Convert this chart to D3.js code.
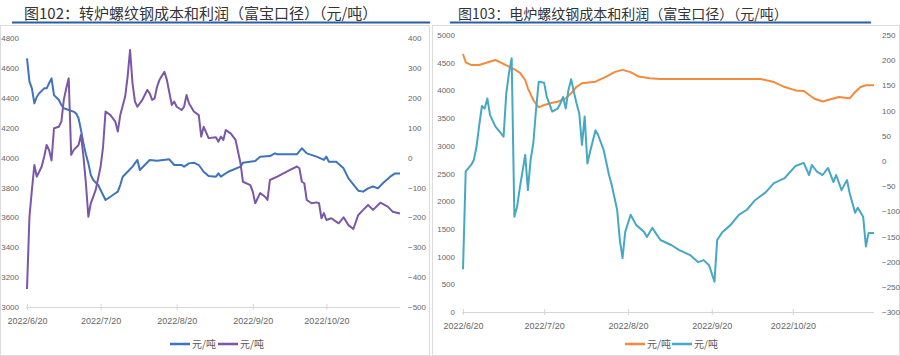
<!DOCTYPE html>
<html><head><meta charset="utf-8">
<script src="https://cdn.jsdelivr.net/npm/d3@7/dist/d3.min.js"></script>
<style>
html,body{margin:0;padding:0;background:#fff;}
svg{display:block;}
</style></head>
<body><svg id="c" width="900" height="356"></svg>
<script>
// ---------- DATA ----------
const title1 = "图102：转炉螺纹钢成本和利润（富宝口径）（元/吨）";
const title2 = "图103：电炉螺纹钢成本和利润（富宝口径）（元/吨）";
const xTickDates = ["2022-06-20","2022-07-20","2022-08-20","2022-09-20","2022-10-20"];
const xTickLabels = ["2022/6/20","2022/7/20","2022/8/20","2022/9/20","2022/10/20"];
const xDomain = ["2022-06-20","2022-11-19"];
const leftTicks1 = [3000,3200,3400,3600,3800,4000,4200,4400,4600,4800];
const rightTicks1 = [-500,-400,-300,-200,-100,0,100,200,300,400];
const leftTicks2 = [0,500,1000,1500,2000,2500,3000,3500,4000,4500,5000];
const rightTicks2 = [-300,-250,-200,-150,-100,-50,0,50,100,150,200,250];
const legendLabels = ["元/吨","元/吨"];

// 转炉 cost (left axis)
const bofCostDates = ["2022-06-20","2022-06-21","2022-06-22","2022-06-23","2022-06-24","2022-06-25","2022-06-27","2022-06-28","2022-06-29","2022-06-30","2022-07-01","2022-07-03","2022-07-04","2022-07-05","2022-07-07","2022-07-09","2022-07-10","2022-07-11","2022-07-12","2022-07-13","2022-07-14","2022-07-15","2022-07-16","2022-07-17","2022-07-19","2022-07-20","2022-07-22","2022-07-24","2022-07-26","2022-07-27","2022-07-28","2022-07-29","2022-07-31","2022-08-02","2022-08-04","2022-08-05","2022-08-07","2022-08-09","2022-08-12","2022-08-17","2022-08-19","2022-08-22","2022-08-23","2022-08-25","2022-08-27","2022-08-29","2022-08-31","2022-09-02","2022-09-05","2022-09-06","2022-09-07","2022-09-10","2022-09-15","2022-09-16","2022-09-21","2022-09-23","2022-09-27","2022-09-29","2022-09-30","2022-10-05","2022-10-08","2022-10-10","2022-10-12","2022-10-16","2022-10-19","2022-10-20","2022-10-21","2022-10-24","2022-10-27","2022-10-29","2022-11-02","2022-11-04","2022-11-06","2022-11-08","2022-11-10","2022-11-12","2022-11-15","2022-11-17","2022-11-19"];
const bofCost = [4664,4508,4463,4363,4407,4430,4463,4463,4497,4530,4418,4385,4352,4330,4318,4307,4296,4263,4184,4095,4022,3961,3883,3850,3816,3783,3716,3738,3761,3772,3816,3872,3905,3939,3984,3917,3950,3984,3979,3988,3950,3950,3939,3961,3966,3950,3905,3876,3872,3894,3872,3905,3939,3966,3977,4006,4010,4028,4022,4022,4022,4062,4028,4006,3984,4006,3972,3972,3928,3861,3778,3772,3794,3806,3794,3828,3872,3894,3894];

// 转炉 profit (right axis)
const bofProfitDates = ["2022-06-20","2022-06-21","2022-06-22","2022-06-23","2022-06-24","2022-06-26","2022-06-27","2022-06-28","2022-06-29","2022-06-30","2022-07-01","2022-07-03","2022-07-04","2022-07-05","2022-07-06","2022-07-07","2022-07-08","2022-07-09","2022-07-11","2022-07-12","2022-07-13","2022-07-14","2022-07-15","2022-07-16","2022-07-18","2022-07-20","2022-07-21","2022-07-22","2022-07-24","2022-07-26","2022-07-27","2022-07-28","2022-07-30","2022-07-31","2022-08-01","2022-08-02","2022-08-03","2022-08-04","2022-08-06","2022-08-08","2022-08-09","2022-08-10","2022-08-11","2022-08-12","2022-08-13","2022-08-15","2022-08-16","2022-08-18","2022-08-19","2022-08-20","2022-08-22","2022-08-23","2022-08-24","2022-08-25","2022-08-27","2022-08-29","2022-08-30","2022-08-31","2022-09-02","2022-09-05","2022-09-06","2022-09-07","2022-09-08","2022-09-09","2022-09-11","2022-09-13","2022-09-15","2022-09-16","2022-09-19","2022-09-20","2022-09-21","2022-09-23","2022-09-25","2022-09-26","2022-09-27","2022-09-30","2022-10-05","2022-10-08","2022-10-09","2022-10-10","2022-10-11","2022-10-12","2022-10-14","2022-10-16","2022-10-17","2022-10-18","2022-10-19","2022-10-20","2022-10-22","2022-10-25","2022-10-27","2022-10-29","2022-10-31","2022-11-02","2022-11-04","2022-11-06","2022-11-08","2022-11-11","2022-11-14","2022-11-16","2022-11-19"];
const bofProfit = [-440,-198,-108,-25,-64,-30,3,42,25,-10,98,103,120,193,232,265,9,25,42,76,3,-86,-198,-153,-108,-30,36,154,142,120,87,142,204,271,360,248,187,170,193,226,215,193,198,237,260,287,260,176,187,170,159,170,209,182,154,142,70,103,65,68,53,70,59,92,81,59,-19,-81,-92,-114,-153,-119,-131,-142,-75,-64,-42,-30,-36,-81,-86,-142,-153,-150,-153,-203,-186,-209,-203,-220,-200,-226,-239,-192,-175,-159,-175,-151,-164,-181,-187];

// 电炉 cost (left axis)
const eafCostDates = ["2022-06-20","2022-06-21","2022-06-23","2022-06-26","2022-06-28","2022-07-02","2022-07-04","2022-07-07","2022-07-09","2022-07-11","2022-07-13","2022-07-14","2022-07-16","2022-07-18","2022-07-20","2022-07-23","2022-07-25","2022-07-28","2022-07-30","2022-08-01","2022-08-03","2022-08-08","2022-08-12","2022-08-15","2022-08-18","2022-08-21","2022-08-24","2022-08-28","2022-09-01","2022-09-16","2022-09-30","2022-10-08","2022-10-13","2022-10-17","2022-10-21","2022-10-24","2022-10-28","2022-10-31","2022-11-03","2022-11-06","2022-11-10","2022-11-12","2022-11-14","2022-11-16","2022-11-19"];
const eafCost = [4657,4507,4459,4459,4489,4549,4501,4429,4380,4320,4188,4038,3827,3695,3736,3777,3795,3857,3947,4066,4127,4157,4250,4330,4370,4330,4250,4220,4206,4206,4206,4206,4150,4060,4000,3990,3850,3800,3840,3880,3857,3971,4061,4092,4092];

// 电炉 profit (right axis)
const eafProfitDates = ["2022-06-20","2022-06-21","2022-06-23","2022-06-24","2022-06-25","2022-06-26","2022-06-27","2022-06-28","2022-06-29","2022-06-30","2022-07-02","2022-07-04","2022-07-05","2022-07-06","2022-07-07","2022-07-08","2022-07-09","2022-07-10","2022-07-11","2022-07-13","2022-07-14","2022-07-15","2022-07-16","2022-07-17","2022-07-18","2022-07-20","2022-07-21","2022-07-23","2022-07-25","2022-07-26","2022-07-27","2022-07-28","2022-07-29","2022-07-30","2022-07-31","2022-08-01","2022-08-02","2022-08-03","2022-08-04","2022-08-05","2022-08-06","2022-08-08","2022-08-09","2022-08-11","2022-08-13","2022-08-14","2022-08-16","2022-08-17","2022-08-18","2022-08-19","2022-08-21","2022-08-23","2022-08-26","2022-08-27","2022-08-29","2022-09-01","2022-09-05","2022-09-08","2022-09-12","2022-09-15","2022-09-17","2022-09-19","2022-09-21","2022-09-22","2022-09-24","2022-09-27","2022-09-30","2022-10-03","2022-10-06","2022-10-10","2022-10-13","2022-10-17","2022-10-21","2022-10-24","2022-10-26","2022-10-27","2022-10-29","2022-10-31","2022-11-02","2022-11-04","2022-11-05","2022-11-07","2022-11-09","2022-11-10","2022-11-12","2022-11-13","2022-11-15","2022-11-16","2022-11-17","2022-11-19"];
const eafProfit = [-215,-21,-8,2,28,71,109,104,124,91,68,55,48,134,174,204,-111,-91,-54,12,-58,2,35,101,157,155,127,98,104,114,127,104,141,162,137,114,94,32,88,-5,18,61,51,22,-28,-48,-97,-157,-193,-141,-107,-127,-141,-151,-133,-157,-167,-177,-187,-201,-197,-207,-240,-157,-141,-127,-107,-97,-78,-62,-44,-34,-10,-4,-28,-8,-22,-28,-14,-42,-28,-58,-38,-64,-103,-93,-111,-170,-143,-143];

// ---------- DRAW ----------
const parse = d3.timeParse("%Y-%m-%d");
const svg = d3.select("#c");
const FONT = "'Liberation Sans', Arial, sans-serif";
const CJK = "'Noto Sans CJK SC', sans-serif";
const C = {blue:"#3f74bd", purple:"#7b57a8", orange:"#f48a3c", teal:"#45a8c4", rule:"#2b5ea8", axis:"#d6d6d6", text:"#666"};

// panel frames
svg.append("rect").attr("x",0.5).attr("y",25.5).attr("width",429).attr("height",330).attr("fill","none").attr("stroke","#dcdcdc");
svg.append("rect").attr("x",432.5).attr("y",25.5).attr("width",467).attr("height",330).attr("fill","none").attr("stroke","#dcdcdc");

function panel(o){
  const g = svg.append("g");
  g.append("text").attr("x",o.tx).attr("y",19).attr("font-family",CJK).attr("font-size",o.tsize)
    .attr("fill","#333").text(o.title);
  g.append("line").attr("x1",o.r0).attr("x2",o.r1).attr("y1",22.5).attr("y2",22.5)
    .attr("stroke",C.rule).attr("stroke-width",2);

  const x = d3.scaleTime().domain(xDomain.map(parse)).range([o.x0,o.x1]);
  const yL = d3.scaleLinear().domain(o.lDom).range([o.yb,o.yt]);
  const yR = d3.scaleLinear().domain(o.rDom).range([o.yb,o.yt]);

  const style = sel => {
    sel.select(".domain").remove();
    sel.selectAll("text").attr("font-family",FONT).attr("font-size",8).attr("fill",C.text);
  };
  g.append("g").attr("transform",`translate(${o.x0},0)`)
    .call(d3.axisLeft(yL).tickValues(o.lTicks).tickSize(0).tickPadding(o.lPad).tickFormat(d3.format("d"))).call(style);
  g.append("g").attr("transform",`translate(${o.x1},0)`)
    .call(d3.axisRight(yR).tickValues(o.rTicks).tickSize(0).tickPadding(8).tickFormat(d3.format("d"))).call(style);
  const xa = g.append("g").attr("transform",`translate(0,${o.yb})`)
    .call(d3.axisBottom(x).tickValues(xTickDates.map(parse)).tickSize(3).tickPadding(8)
      .tickFormat((d,i)=>xTickLabels[i]));
  xa.select(".domain").attr("stroke",C.axis).attr("d",`M${o.x0-1},0.5H${o.x1}`);
  xa.selectAll(".tick line").attr("stroke",C.axis).attr("y1",-3);
  xa.selectAll("text").attr("font-family",FONT).attr("font-size",9).attr("fill",C.text);

  const lineL = d3.line().x(d=>x(d[0])).y(d=>yL(d[1]));
  const lineR = d3.line().x(d=>x(d[0])).y(d=>yR(d[1]));
  g.append("path").datum(o.s1d.map((d,i)=>[parse(d),o.s1v[i]])).attr("d",lineL)
    .attr("fill","none").attr("stroke",o.c1).attr("stroke-width",2).attr("stroke-linejoin","round");
  g.append("path").datum(o.s2d.map((d,i)=>[parse(d),o.s2v[i]])).attr("d",lineR)
    .attr("fill","none").attr("stroke",o.c2).attr("stroke-width",2).attr("stroke-linejoin","round");

  // legend
  [[o.lg[0],o.c1,legendLabels[0]],[o.lg[1],o.c2,legendLabels[1]]].forEach(([lx,c,t])=>{
    g.append("line").attr("x1",lx).attr("x2",lx+20).attr("y1",344).attr("y2",344).attr("stroke",c).attr("stroke-width",2.5);
    g.append("text").attr("x",lx+22).attr("y",347.5).attr("font-family",CJK).attr("font-size",10).attr("fill","#595959").text(t);
  });
}

panel({title:title1,tx:24,tsize:15,r0:12,r1:430,x0:27,x1:400,yb:307,yt:38,lPad:8,
  lDom:[3000,4800],rDom:[-500,400],lTicks:leftTicks1,rTicks:rightTicks1,
  s1d:bofCostDates,s1v:bofCost,s2d:bofProfitDates,s2v:bofProfit,c1:C.blue,c2:C.purple,lg:[170,218]});
panel({title:title2,tx:458,tsize:14,r0:450,r1:871,x0:463,x1:874,yb:312,yt:35,lPad:8,
  lDom:[0,5000],rDom:[-300,250],lTicks:leftTicks2,rTicks:rightTicks2,
  s1d:eafCostDates,s1v:eafCost,s2d:eafProfitDates,s2v:eafProfit,c1:C.orange,c2:C.teal,lg:[625,672]});
</script></body></html>
